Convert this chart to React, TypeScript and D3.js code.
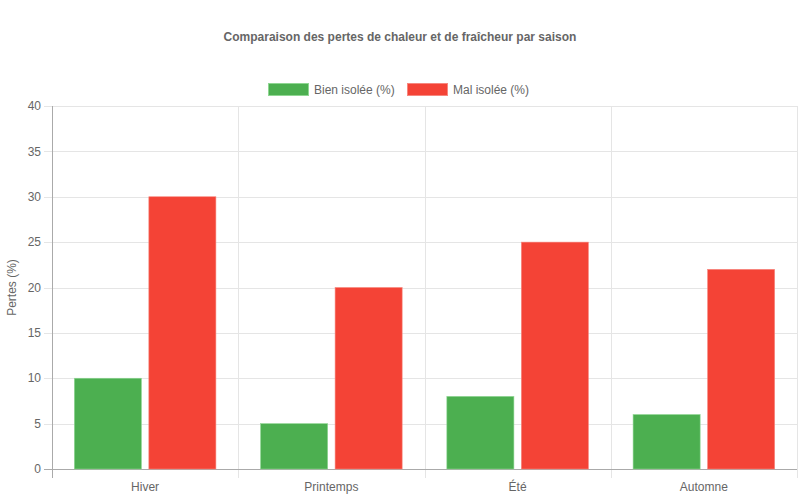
import { useEffect, useRef } from "react";
import * as d3 from "d3";

const seasons = ["Hiver", "Printemps", "Été", "Automne"];
const bienIsolee = [10, 5, 8, 6];
const malIsolee = [30, 20, 25, 22];
const seriesNames = ["Bien isolée (%)", "Mal isolée (%)"];
const yTicks = [0, 5, 10, 15, 20, 25, 30, 35, 40];

const W = 800;
const H = 500;
const FONT = "'Liberation Sans', Arial, Helvetica, sans-serif";
const colors = ["#4CAF50", "#F44336"];
const borders = ["#8fd692", "#f7877e"];

export default function App() {
  const ref = useRef<SVGSVGElement | null>(null);

  useEffect(() => {
    if (!ref.current) return;
    const svg = d3.select(ref.current);
    svg.selectAll("*").remove();

    const m = { t: 106, r: 3, b: 31, l: 52 };
    const w = W - m.l - m.r;
    const h = H - m.t - m.b;

    const x0 = d3.scaleBand<string>().domain(seasons).range([0, w]);
    const x1 = d3
      .scaleBand<number>()
      .domain([0, 1])
      .range([x0.bandwidth() * 0.1, x0.bandwidth() * 0.9])
      .paddingInner(0.1)
      .paddingOuter(0.05);
    const y = d3.scaleLinear().domain([0, 40]).range([h, 0]);

    // title
    svg
      .append("text")
      .attr("x", W / 2)
      .attr("y", 41)
      .attr("text-anchor", "middle")
      .attr("font-family", FONT)
      .attr("font-size", 12)
      .attr("font-weight", "bold")
      .attr("fill", "#666")
      .text("Comparaison des pertes de chaleur et de fraîcheur par saison");

    // legend
    const lg = svg.append("g").attr("font-family", FONT).attr("font-size", 12).attr("fill", "#666");
    const legendX = [268, 407];
    seriesNames.forEach((name, i) => {
      lg.append("rect")
        .attr("x", legendX[i] + 0.5)
        .attr("y", 83.5)
        .attr("width", 40)
        .attr("height", 12)
        .attr("fill", colors[i])
        .attr("stroke", borders[i])
        .attr("stroke-width", 1);
      lg.append("text")
        .attr("x", legendX[i] + 46)
        .attr("y", 94)
        .attr("fill", "#666")
        .text(name);
    });

    const g = svg.append("g").attr("transform", `translate(${m.l},${m.t})`);

    // horizontal grid + y ticks
    yTicks.forEach((t) => {
      g.append("line")
        .attr("x1", -8)
        .attr("x2", w)
        .attr("y1", Math.round(y(t)) + 0.5)
        .attr("y2", Math.round(y(t)) + 0.5)
        .attr("stroke", t === 0 ? "#aaa" : "#e5e5e5")
        .attr("stroke-width", 1);
      g.append("text")
        .attr("x", -11)
        .attr("y", y(t))
        .attr("dy", "0.35em")
        .attr("text-anchor", "end")
        .attr("font-family", FONT)
        .attr("font-size", 12)
        .attr("fill", "#666")
        .text(t);
    });

    // vertical grid
    const bounds = seasons.map((s) => x0(s) as number).concat([w]);
    bounds.forEach((bx, i) => {
      g.append("line")
        .attr("x1", Math.round(bx) + 0.5)
        .attr("x2", Math.round(bx) + 0.5)
        .attr("y1", 0)
        .attr("y2", h + 9)
        .attr("stroke", i === 0 ? "#aaa" : "#e5e5e5")
        .attr("stroke-width", 1);
    });
    g.append("line")
      .attr("x1", 0)
      .attr("x2", w)
      .attr("y1", Math.round(h) + 0.5)
      .attr("y2", Math.round(h) + 0.5)
      .attr("stroke", "#aaa");

    // bars
    const series = [bienIsolee, malIsolee];
    seasons.forEach((s, ci) => {
      series.forEach((vals, si) => {
        const bx = (x0(s) as number) + (x1(si) as number);
        g.append("rect")
          .attr("x", bx)
          .attr("y", y(vals[ci]))
          .attr("width", x1.bandwidth())
          .attr("height", h - y(vals[ci]))
          .attr("fill", colors[si])
          .attr("stroke", borders[si])
          .attr("stroke-width", 0.6);
      });
    });

    // x labels
    seasons.forEach((s) => {
      g.append("text")
        .attr("x", (x0(s) as number) + x0.bandwidth() / 2)
        .attr("y", h + 22)
        .attr("text-anchor", "middle")
        .attr("font-family", FONT)
        .attr("font-size", 12)
        .attr("fill", "#666")
        .text(s);
    });

    // y-axis title
    svg
      .append("text")
      .attr("transform", `translate(16,${m.t + h / 2}) rotate(-90)`)
      .attr("text-anchor", "middle")
      .attr("font-family", FONT)
      .attr("font-size", 12)
      .attr("fill", "#666")
      .text("Pertes (%)");
  }, []);

  return (
    <svg
      ref={ref}
      width={W}
      height={H}
      style={{ display: "block", position: "absolute", left: 0, top: 0, background: "#fff" }}
    />
  );
}
